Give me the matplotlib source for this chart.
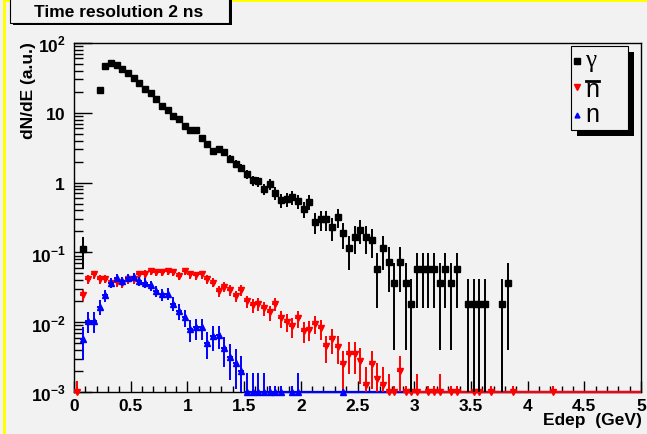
"""
Deposited-energy spectra (gamma, anti-neutron, neutron) for a 2 ns
timing window, drawn in the old ROOT canvas look.
"""
import matplotlib
matplotlib.use("Agg")
import matplotlib.pyplot as plt
import numpy as np
from matplotlib.patches import Rectangle
from matplotlib.ticker import (FixedFormatter, FixedLocator, FuncFormatter,
                               MultipleLocator, NullFormatter)

plt.rcParams["font.family"] = ["Liberation Sans", "DejaVu Sans"]
plt.rcParams["mathtext.fontset"] = "custom"
plt.rcParams["mathtext.rm"] = "Liberation Sans:bold"
plt.rcParams["mathtext.bf"] = "Liberation Sans:bold"

BG = "#f2f2f2"
BIN_W = 0.05
Y_MIN, Y_MAX = 1e-3, 1e2

# --- gamma (bin centres in GeV, contents, errors) ---
gamma_e = [0.075, 0.225, 0.275, 0.325, 0.375, 0.425, 0.475, 0.525, 0.575, 0.625,
           0.675, 0.725, 0.775, 0.825, 0.875, 0.925, 0.975, 1.025, 1.075, 1.125,
           1.175, 1.225, 1.275, 1.325, 1.375, 1.425, 1.475, 1.525, 1.575, 1.625,
           1.675, 1.725, 1.775, 1.825, 1.875, 1.925, 1.975, 2.025, 2.075, 2.125,
           2.175, 2.225, 2.275, 2.325, 2.375, 2.425, 2.475, 2.525, 2.575, 2.625,
           2.675, 2.725, 2.775, 2.825, 2.875, 2.925, 2.975, 3.025, 3.075, 3.125,
           3.175, 3.225, 3.275, 3.325, 3.375, 3.475, 3.525, 3.575, 3.625, 3.775, 3.825]
gamma_val = [0.113, 21, 47, 51, 49, 42, 37, 32, 26.5, 22,
             19, 15.9, 12.6, 11, 9.1, 8.2, 6.5, 5.7, 5.6, 4.4,
             3.57, 2.8, 3.0, 2.7, 2.2, 1.87, 1.64, 1.33, 1.08, 1.04,
             0.81, 0.95, 0.71, 0.56, 0.58, 0.62, 0.54, 0.42, 0.53, 0.275,
             0.30, 0.30, 0.23, 0.32, 0.187, 0.114, 0.166, 0.21, 0.166, 0.15,
             0.057, 0.114, 0.074, 0.037, 0.074, 0.037, 0.0185, 0.057, 0.057, 0.057,
             0.057, 0.037, 0.057, 0.037, 0.057, 0.0185, 0.0185, 0.0185, 0.0185, 0.0185, 0.037]
gamma_err = [0.055, 0.79, 1.19, 1.24, 1.21, 1.12, 1.05, 0.98, 0.89, 0.81,
             0.75, 0.69, 0.61, 0.57, 0.52, 0.50, 0.44, 0.41, 0.41, 0.36,
             0.33, 0.29, 0.30, 0.28, 0.26, 0.24, 0.22, 0.20, 0.18, 0.18,
             0.156, 0.169, 0.146, 0.129, 0.132, 0.136, 0.127, 0.112, 0.126, 0.091,
             0.095, 0.095, 0.083, 0.098, 0.075, 0.058, 0.070, 0.079, 0.070, 0.067,
             0.041, 0.058, 0.047, 0.033, 0.047, 0.033, 0.0235, 0.041, 0.041, 0.041,
             0.041, 0.033, 0.041, 0.033, 0.041, 0.0235, 0.0235, 0.0235, 0.0235, 0.0235, 0.033]

# --- anti-neutron ---
nbar_e = [0.025, 0.075, 0.125, 0.175, 0.225, 0.275, 0.325, 0.375, 0.425, 0.475,
          0.525, 0.575, 0.625, 0.675, 0.725, 0.775, 0.825, 0.875, 0.925, 0.975,
          1.025, 1.075, 1.125, 1.175, 1.225, 1.275, 1.325, 1.375, 1.425, 1.475,
          1.525, 1.575, 1.625, 1.675, 1.725, 1.775, 1.825, 1.875, 1.925, 1.975,
          2.025, 2.075, 2.125, 2.175, 2.225, 2.275, 2.325, 2.375, 2.425, 2.475,
          2.525, 2.575, 2.625, 2.675, 2.725, 2.775, 2.825, 2.875, 2.925,
          2.975, 3.025, 3.125, 3.175, 3.225, 3.325, 3.375, 3.525, 3.575, 3.675,
          3.875, 4.225]
nbar_val = [0.001, 0.0243, 0.041, 0.0485, 0.041, 0.042, 0.036, 0.038, 0.036, 0.041,
            0.041, 0.0485, 0.0497, 0.054, 0.052, 0.052, 0.054, 0.052, 0.0458, 0.054,
            0.0485, 0.047, 0.0485, 0.041, 0.037, 0.028, 0.0324, 0.029, 0.0238, 0.029,
            0.0198, 0.0175, 0.0185, 0.016, 0.0138, 0.0183, 0.0113, 0.0101, 0.0087, 0.0114,
            0.0075, 0.0078, 0.0095, 0.0082, 0.0045, 0.0057, 0.0044, 0.0025, 0.0035, 0.0035,
            0.0028, 0.00127, 0.0025, 0.00153, 0.00127, 0.001, 0.001, 0.002, 0.001,
            0.001, 0.001, 0.001, 0.001, 0.001, 0.001, 0.001, 0.001, 0.001, 0.001,
            0.001, 0.001]
nbar_err = [0.00045, 0.0045, 0.0058, 0.0063, 0.0058, 0.0059, 0.0055, 0.0057, 0.0055, 0.0059,
            0.0058, 0.0063, 0.0064, 0.0067, 0.0065, 0.0065, 0.0067, 0.0065, 0.0061, 0.0067,
            0.0063, 0.0062, 0.0063, 0.0058, 0.0055, 0.0048, 0.0052, 0.0049, 0.0044, 0.0049,
            0.0040, 0.0038, 0.0039, 0.0036, 0.0034, 0.0039, 0.0030, 0.0029, 0.0027, 0.0031,
            0.0025, 0.0025, 0.0028, 0.0026, 0.0019, 0.0022, 0.0019, 0.0014, 0.0017, 0.0017,
            0.0015, 0.0010, 0.0014, 0.0011, 0.0010, 0.0008, 0.0002, 0.0013, 0.0002,
            0.0008, 0.0008, 0.0002, 0.0002, 0.0008, 0.0002, 0.0002, 0.0002, 0.0002, 0.0002,
            0.0002, 0.0002]

# --- neutron ---
n_e = [0.075, 0.125, 0.175, 0.225, 0.275, 0.325, 0.375, 0.425, 0.475, 0.525,
       0.575, 0.625, 0.675, 0.725, 0.775, 0.825, 0.875, 0.925, 0.975, 1.025,
       1.075, 1.125, 1.175, 1.225, 1.275, 1.325, 1.375, 1.425, 1.475, 1.525,
       1.575, 1.625, 1.675, 1.725, 1.775, 1.825, 1.925, 1.975, 2.375]
n_val = [0.0057, 0.0104, 0.0104, 0.0167, 0.0243, 0.037, 0.0435, 0.039, 0.0435, 0.045,
         0.039, 0.037, 0.0338, 0.028, 0.0251, 0.0257, 0.0185, 0.0145, 0.0119, 0.0079,
         0.0084, 0.0084, 0.0051, 0.0063, 0.0065, 0.0042, 0.0032, 0.0026, 0.002, 0.001,
         0.001, 0.001, 0.001, 0.001, 0.001, 0.001, 0.001, 0.001, 0.001]
n_err = [0.0028, 0.0035, 0.0035, 0.0040, 0.0047, 0.0058, 0.0063, 0.0059, 0.0063, 0.0064,
         0.0059, 0.0058, 0.0055, 0.0050, 0.0048, 0.0048, 0.0041, 0.0036, 0.0033, 0.0027,
         0.0028, 0.0028, 0.0021, 0.0024, 0.0024, 0.0019, 0.0017, 0.0015, 0.0013, 0.0009,
         0.0009, 0.0009, 0.0009, 0.0002, 0.0002, 0.0002, 0.0002, 0.0009, 0.0001]

GAMMA = dict(color="black", marker="s", ms=4.5)
NBAR = dict(color="#ff0000", marker="v", ms=4.5)
NEUT = dict(color="#0000ff", marker="^", ms=4.0)


def draw_hist(ax, e, val, err, style, z):
    e = np.asarray(e)
    val = np.asarray(val, float)
    err = np.asarray(err, float)
    low = np.minimum(err, val * 0.999)  # bars crossing zero run off the log axis
    ax.errorbar(e, val, yerr=[low, err], xerr=BIN_W / 2, fmt="none",
                ecolor=style["color"], elinewidth=1.4, capsize=0, zorder=z)
    ax.plot(e, val, ls="none", marker=style["marker"], ms=style["ms"],
            color=style["color"], clip_on=False, zorder=z + 0.1)


def draw_floor(ax, e, val, color, z):
    # empty bins (and bins below the axis minimum) sit on the lower edge
    centres = np.round(np.arange(BIN_W / 2, 5.0, BIN_W), 3)
    filled = {round(x, 3) for x, v in zip(e, val) if v > Y_MIN}
    floor = np.array([c for c in centres if c not in filled])
    ax.hlines(np.full(len(floor), Y_MIN), floor - BIN_W / 2, floor + BIN_W / 2,
              colors=color, lw=1.6, clip_on=False, zorder=z)


fig = plt.figure(figsize=(6.47, 4.35), dpi=100, facecolor=BG)
ax = fig.add_axes([74 / 647, 42 / 435, 567 / 647, 349 / 435], facecolor=BG)

draw_floor(ax, n_e, n_val, NEUT["color"], 3.0)
draw_floor(ax, nbar_e, nbar_val, NBAR["color"], 3.1)
draw_hist(ax, nbar_e, nbar_val, nbar_err, NBAR, 3.2)
draw_hist(ax, n_e, n_val, n_err, NEUT, 3.4)
draw_hist(ax, gamma_e, gamma_val, gamma_err, GAMMA, 3.6)

ax.set_xlim(0, 5)
ax.set_yscale("log")
ax.set_ylim(Y_MIN, Y_MAX)

ax.xaxis.set_major_locator(MultipleLocator(0.5))
ax.xaxis.set_minor_locator(MultipleLocator(0.1))
ax.xaxis.set_major_formatter(FuncFormatter(lambda v, _: f"{v:g}"))

decades = [1e-3, 1e-2, 1e-1, 1, 10, 100]
dec_labels = ["$10^{-3}$", "$10^{-2}$", "$10^{-1}$", "$1$", "$10$", "$10^{2}$"]
ax.yaxis.set_major_locator(FixedLocator(decades))
ax.yaxis.set_major_formatter(FixedFormatter(dec_labels))
ax.yaxis.set_minor_locator(FixedLocator([m * 10.0 ** k for k in range(-3, 2) for m in range(2, 10)]))
ax.yaxis.set_minor_formatter(NullFormatter())

ax.tick_params(which="both", direction="in", top=False, right=False, width=1)
ax.tick_params(axis="x", which="major", length=8, pad=4, labelsize=12.5)
ax.tick_params(axis="x", which="minor", length=4)
ax.tick_params(axis="y", which="major", length=13, pad=6, labelsize=12.5)
ax.tick_params(axis="y", which="minor", length=6.5)
for lbl in ax.get_xticklabels():
    lbl.set_fontweight("bold")
for sp in ax.spines.values():
    sp.set_linewidth(1.0)

# overlay in pixel coordinates for the canvas decorations
ov = fig.add_axes([0, 0, 1, 1], zorder=10)
ov.set_xlim(0, 647)
ov.set_ylim(435, 0)
ov.patch.set_alpha(0)
ov.axis("off")

ov.add_patch(Rectangle((3.3, 0), 647, 2.7, color="#ffff00", lw=0))
ov.add_patch(Rectangle((3.3, 0), 2.4, 435, color="#ffff00", lw=0))

# title pave
ov.add_patch(Rectangle((13, -5), 219, 31, facecolor="black", lw=0))
ov.add_patch(Rectangle((10, -5), 219, 29, facecolor=BG, edgecolor="black", lw=0.8))
ov.text(119, 17, "Time resolution 2 ns", ha="center", va="baseline",
        fontsize=12.5, fontweight="bold")

ov.text(29, 42, "dN/dE (a.u.)", rotation=90, ha="center", va="top",
        fontsize=12.5, fontweight="bold")
ov.text(642, 425, "Edep  (GeV)", ha="right", va="baseline",
        fontsize=12.5, fontweight="bold")

# legend pave
ov.add_patch(Rectangle((577, 53), 57, 84, facecolor="black", lw=0))
ov.add_patch(Rectangle((571, 46.7), 57, 84, facecolor=BG, edgecolor="black", lw=0.8))
for yy, style in [(62, GAMMA), (88, NBAR), (116, NEUT)]:
    ov.plot([577], [yy], ls="none", marker=style["marker"], ms=style["ms"] - 0.5,
            color=style["color"])
ov.text(585, 67, "γ", family="Liberation Serif", fontsize=18, va="baseline")
ov.text(585, 96.7, "n", fontsize=18, va="baseline")
ov.plot([586, 599], [81.5, 81.5], color="black", lw=2)
ov.text(585, 121.7, "n", fontsize=18, va="baseline")

fig.savefig("out.png", dpi=100, facecolor=BG)
